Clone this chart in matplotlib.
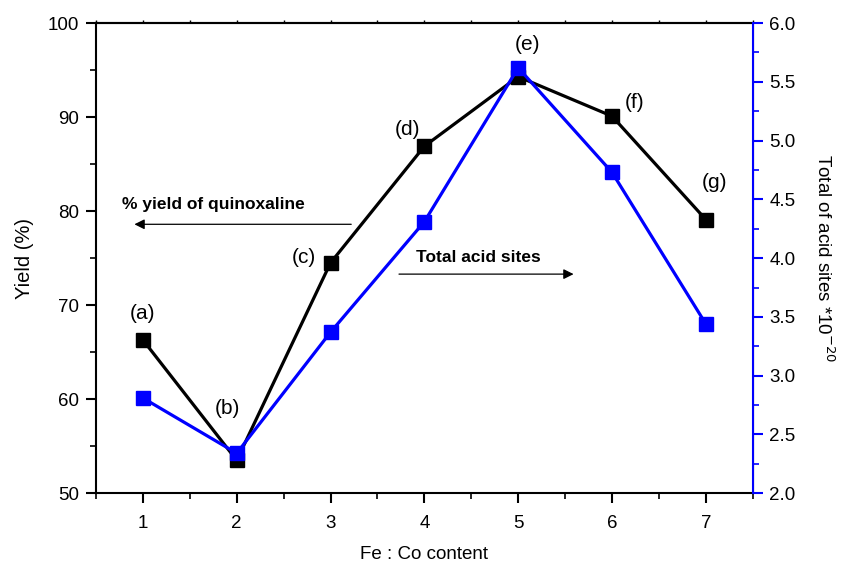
import numpy as np
import matplotlib.pyplot as plt

plt.rcParams['font.family'] = ['Liberation Sans', 'DejaVu Sans']

content = [1, 2, 3, 4, 5, 6, 7]
yield_pct = [66.3, 53.5, 74.5, 86.9, 94.3, 90.1, 79.1]
acid_sites = [2.81, 2.34, 3.37, 4.31, 5.62, 4.73, 3.44]
point_tags = ['(a)', '(b)', '(c)', '(d)', '(e)', '(f)', '(g)']

fig = plt.figure(figsize=(8.42, 5.63), dpi=100)
ax = fig.add_axes([0.114, 0.124, 0.780, 0.835])
ax2 = ax.twinx()

ax.plot(content, yield_pct, color='black', lw=2.3, marker='s', ms=10, zorder=3)
ax2.plot(content, acid_sites, color='#0000ff', lw=2.3, marker='s', ms=10, zorder=4)

# sample tags placed near the yield points
tag_offsets = [(0, 26), (-9, 52), (-27, 5), (-17, 17), (9, 32), (23, 14), (9, 37)]
for x, y, t, (dx, dy) in zip(content, yield_pct, point_tags, tag_offsets):
    ax.annotate(t, (x, y), xytext=(dx, dy), textcoords='offset pixels',
                ha='center', va='center', fontsize=15)

ax.set_xlim(0.5, 7.5)
ax.set_ylim(50, 100)
ax2.set_ylim(2.0, 6.0)

ax.set_xticks(content)
ax.set_xticks(np.arange(0.5, 7.6, 0.5), minor=True)
ax.set_yticks(np.arange(50, 101, 10))
ax.set_yticks(np.arange(50, 101, 5), minor=True)
ax2.set_yticks(np.arange(2.0, 6.01, 0.5))
ax2.set_yticks(np.arange(2.0, 6.01, 0.25), minor=True)
ax2.set_yticklabels([f'{v:.1f}' for v in np.arange(2.0, 6.01, 0.5)])

ax.tick_params(axis='both', which='major', direction='out', length=7, width=1.5,
               labelsize=13.5, pad=5)
ax.tick_params(axis='both', which='minor', direction='out', length=4, width=1.2)
ax.tick_params(axis='x', which='major', pad=9)
ax2.tick_params(axis='y', which='major', direction='out', length=7, width=1.5,
                labelsize=13.5, labelcolor='black', color='#0000ff', pad=5)
ax2.tick_params(axis='y', which='minor', direction='out', length=4, width=1.2,
                color='#0000ff')

# tiny ticks along the top frame
top = ax.secondary_xaxis('top')
top.set_xticks(np.arange(0.5, 7.6, 0.5))
top.tick_params(direction='out', length=2, width=1.0, labeltop=False)
top.spines['top'].set_linewidth(1.5)

for s in ['left', 'bottom', 'top']:
    ax.spines[s].set_linewidth(1.5)
ax2.spines['right'].set_color('#0000ff')
ax2.spines['right'].set_linewidth(1.5)
ax2.spines['left'].set_visible(False)
ax2.spines['top'].set_visible(False)
ax2.spines['bottom'].set_visible(False)

ax.set_xlabel('Fe : Co content', fontsize=13.5, labelpad=10)
ax.set_ylabel('Yield (%)', fontsize=14.5, labelpad=10)
ax2.set_ylabel('Total of acid sites *10$^{-20}$', fontsize=13.5, rotation=270, labelpad=28)

# arrows pointing to each series' axis
ax.annotate('', xy=(0.88, 78.6), xytext=(3.25, 78.6),
            arrowprops=dict(arrowstyle='-|>', color='black', lw=0.9, mutation_scale=15))
ax.text(0.78, 80.7, '% yield of quinoxaline', fontsize=12.5, fontweight='bold', va='center')
ax.annotate('', xy=(5.62, 73.3), xytext=(3.7, 73.3),
            arrowprops=dict(arrowstyle='-|>', color='black', lw=0.9, mutation_scale=15))
ax.text(3.91, 75.1, 'Total acid sites', fontsize=12.5, fontweight='bold', va='center')

fig.savefig('out.png', dpi=100)
